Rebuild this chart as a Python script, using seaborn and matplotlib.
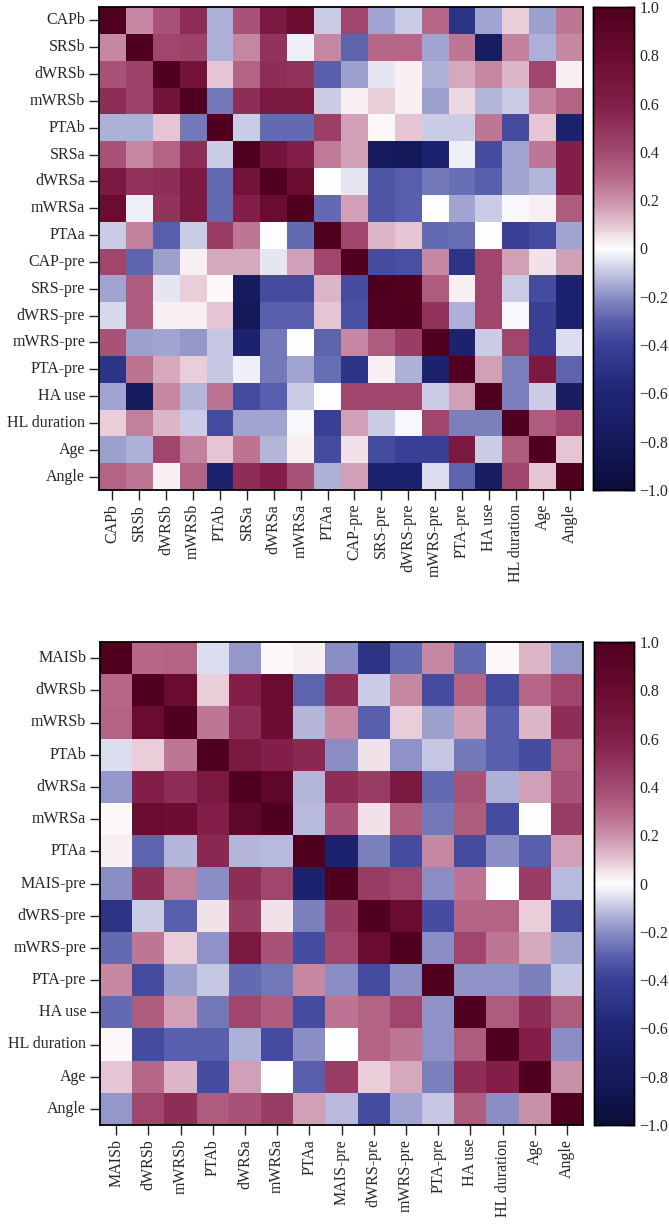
import numpy as np
import pandas as pd
import matplotlib
matplotlib.use("Agg")
import matplotlib.pyplot as plt
from matplotlib.colors import LinearSegmentedColormap
from matplotlib.ticker import FixedLocator, FuncFormatter
import seaborn as sns

sns.set_theme(style="white")
plt.rcParams['font.family'] = ['Liberation Serif', 'DejaVu Serif']

# ---------------- data: top panel ----------------
labels_top = ["CAPb", "SRSb", "dWRSb", "mWRSb", "PTAb", "SRSa", "dWRSa", "mWRSa", "PTAa",
              "CAP-pre", "SRS-pre", "dWRS-pre", "mWRS-pre", "PTA-pre", "HA use",
              "HL duration", "Age", "Angle"]

corr_top = [
    [1.0, 0.22, 0.37, 0.53, -0.14, 0.37, 0.65, 0.8, -0.09, 0.42, -0.16, -0.09, 0.3, -0.5, -0.16, 0.08, -0.17, 0.26],
    [0.22, 1.0, 0.42, 0.43, -0.14, 0.22, 0.5, -0.03, 0.22, -0.29, 0.3, 0.3, -0.16, 0.26, -0.75, 0.24, -0.14, 0.22],
    [0.37, 0.43, 1.0, 0.72, 0.1, 0.32, 0.53, 0.5, -0.3, -0.17, -0.04, 0.03, -0.14, 0.15, 0.22, 0.13, 0.42, 0.03],
    [0.53, 0.43, 0.72, 1.0, -0.25, 0.53, 0.65, 0.65, -0.09, 0.03, 0.08, 0.03, -0.17, 0.07, -0.13, -0.09, 0.24, 0.32],
    [-0.14, -0.14, 0.1, -0.25, 1.0, -0.09, -0.28, -0.28, 0.45, 0.17, 0.01, 0.1, -0.09, -0.09, 0.26, -0.36, 0.1, -0.65],
    [0.37, 0.22, 0.32, 0.53, -0.09, 1.0, 0.72, 0.6, 0.25, 0.17, -0.78, -0.82, -0.65, -0.03, -0.36, -0.16, 0.26, 0.6],
    [0.65, 0.5, 0.53, 0.65, -0.28, 0.72, 1.0, 0.8, 0.0, -0.04, -0.33, -0.3, -0.25, -0.27, -0.3, -0.16, -0.13, 0.6],
    [0.8, -0.03, 0.5, 0.65, -0.28, 0.6, 0.8, 1.0, -0.28, 0.17, -0.33, -0.3, 0.0, -0.16, -0.09, -0.01, 0.03, 0.34],
    [-0.09, 0.24, -0.3, -0.09, 0.46, 0.26, 0.0, -0.28, 1.0, 0.42, 0.13, 0.1, -0.28, -0.27, 0.0, -0.4, -0.36, -0.16],
    [0.42, -0.29, -0.17, 0.03, 0.15, 0.15, -0.04, 0.17, 0.42, 1.0, -0.36, -0.35, 0.22, -0.5, 0.42, 0.17, 0.05, 0.17],
    [-0.16, 0.34, -0.04, 0.08, 0.01, -0.78, -0.36, -0.36, 0.13, -0.36, 1.0, 0.98, 0.34, 0.03, 0.42, -0.09, -0.36, -0.65],
    [-0.07, 0.34, 0.03, 0.03, 0.1, -0.82, -0.3, -0.3, 0.1, -0.35, 0.98, 1.0, 0.5, -0.14, 0.42, -0.01, -0.4, -0.65],
    [0.37, -0.17, -0.16, -0.18, -0.1, -0.65, -0.25, 0.0, -0.29, 0.22, 0.34, 0.46, 1.0, -0.65, -0.09, 0.42, -0.4, -0.06],
    [-0.5, 0.27, 0.15, 0.08, -0.1, -0.03, -0.25, -0.16, -0.27, -0.5, 0.03, -0.14, -0.65, 1.0, 0.17, -0.23, 0.65, -0.29],
    [-0.16, -0.78, 0.22, -0.13, 0.27, -0.36, -0.3, -0.09, 0.0, 0.42, 0.42, 0.42, -0.09, 0.17, 1.0, -0.23, -0.09, -0.75],
    [0.08, 0.24, 0.13, -0.09, -0.36, -0.16, -0.16, -0.01, -0.4, 0.17, -0.09, -0.01, 0.42, -0.23, -0.23, 1.0, 0.34, 0.42],
    [-0.17, -0.14, 0.42, 0.24, 0.1, 0.27, -0.13, 0.03, -0.36, 0.05, -0.36, -0.4, -0.4, 0.65, -0.09, 0.34, 1.0, 0.1],
    [0.32, 0.26, 0.03, 0.32, -0.65, 0.53, 0.6, 0.37, -0.14, 0.17, -0.65, -0.65, -0.06, -0.29, -0.75, 0.42, 0.1, 1.0],
]

# ---------------- data: bottom panel ----------------
labels_bot = ["MAISb", "dWRSb", "mWRSb", "PTAb", "dWRSa", "mWRSa", "PTAa", "MAIS-pre",
              "dWRS-pre", "mWRS-pre", "PTA-pre", "HA use", "HL duration", "Age", "Angle"]

corr_bot = [
    [1.0, 0.3, 0.32, -0.06, -0.18, 0.01, 0.03, -0.2, -0.5, -0.28, 0.22, -0.28, 0.01, 0.13, -0.18],
    [0.3, 1.0, 0.8, 0.08, 0.6, 0.8, -0.29, 0.53, -0.09, 0.22, -0.36, 0.32, -0.36, 0.3, 0.42],
    [0.32, 0.8, 1.0, 0.26, 0.53, 0.78, -0.13, 0.22, -0.3, 0.08, -0.17, 0.17, -0.3, 0.13, 0.53],
    [-0.06, 0.08, 0.26, 1.0, 0.65, 0.6, 0.55, -0.2, 0.05, -0.19, -0.1, -0.25, -0.3, -0.36, 0.34],
    [-0.18, 0.6, 0.53, 0.65, 1.0, 0.88, -0.13, 0.53, 0.46, 0.65, -0.28, 0.37, -0.14, 0.17, 0.37],
    [0.01, 0.8, 0.78, 0.6, 0.88, 1.0, -0.12, 0.37, 0.05, 0.34, -0.25, 0.34, -0.36, 0.0, 0.46],
    [0.03, -0.29, -0.13, 0.55, -0.13, -0.12, 1.0, -0.65, -0.23, -0.36, 0.22, -0.36, -0.2, -0.3, 0.17],
    [-0.2, 0.53, 0.24, -0.2, 0.53, 0.42, -0.65, 1.0, 0.46, 0.42, -0.2, 0.27, 0.0, 0.46, -0.12],
    [-0.5, -0.09, -0.3, 0.05, 0.46, 0.05, -0.23, 0.46, 1.0, 0.8, -0.36, 0.32, 0.32, 0.08, -0.36],
    [-0.28, 0.26, 0.08, -0.19, 0.65, 0.37, -0.36, 0.42, 0.8, 1.0, -0.2, 0.42, 0.26, 0.15, -0.16],
    [0.22, -0.36, -0.17, -0.1, -0.28, -0.25, 0.22, -0.2, -0.36, -0.2, 1.0, -0.19, -0.19, -0.23, -0.1],
    [-0.28, 0.34, 0.17, -0.25, 0.42, 0.34, -0.36, 0.27, 0.32, 0.42, -0.19, 1.0, 0.34, 0.53, 0.34],
    [0.01, -0.36, -0.3, -0.3, -0.14, -0.36, -0.2, 0.0, 0.32, 0.26, -0.19, 0.34, 1.0, 0.6, -0.2],
    [0.1, 0.3, 0.13, -0.36, 0.17, 0.0, -0.3, 0.46, 0.08, 0.15, -0.23, 0.53, 0.6, 1.0, 0.2],
    [-0.18, 0.42, 0.53, 0.34, 0.37, 0.46, 0.17, -0.12, -0.36, -0.16, -0.1, 0.34, -0.2, 0.2, 1.0],
]

cbar_ticks = [-1.0, -0.8, -0.6, -0.4, -0.2, 0.0, 0.2, 0.4, 0.6, 0.8, 1.0]

# ---------------- colormap ----------------
cmap_anchors = [
    (0.00, "#0b0d3a"), (0.10, "#151a5c"), (0.20, "#1f2574"), (0.30, "#3a4096"),
    (0.35, "#5a60ac"), (0.40, "#8a8ec4"), (0.45, "#c4c6e2"), (0.50, "#ffffff"),
    (0.55, "#e4c4d2"), (0.60, "#c990a9"), (0.65, "#b66888"), (0.70, "#a34a70"),
    (0.80, "#821e48"), (0.90, "#6a0c30"), (1.00, "#50001e"),
]
cmap = LinearSegmentedColormap.from_list("navy_maroon", cmap_anchors, N=256)

FS = 11.5


def fmt(v, _pos=None):
    if abs(v) < 1e-9:
        return "0"
    return f"{v:.1f}".replace("-", "\u2212")


def draw(ax, cax, mat, labels):
    df = pd.DataFrame(mat, index=labels, columns=labels)
    sns.heatmap(df, cmap=cmap, vmin=-1, vmax=1, ax=ax, cbar_ax=cax,
                xticklabels=True, yticklabels=True, linewidths=0)
    for s in ax.spines.values():
        s.set_visible(True)
        s.set_color("black")
        s.set_linewidth(1.3)
    ax.tick_params(axis="both", which="major", direction="out", length=7, width=1.0,
                   color="#222222", labelsize=FS, pad=3, bottom=True, left=True)
    ax.set_xticklabels(labels, rotation=90, fontsize=FS)
    ax.set_yticklabels(labels, rotation=0, fontsize=FS)
    ax.set_xlabel("")
    ax.set_ylabel("")
    cax.yaxis.set_major_locator(FixedLocator(cbar_ticks))
    cax.yaxis.set_major_formatter(FuncFormatter(fmt))
    cax.tick_params(axis="y", which="major", direction="in", length=6, width=1.0,
                    left=True, right=True, labelleft=False, labelright=True,
                    labelsize=FS, pad=4, color="black")
    for s in cax.spines.values():
        s.set_visible(True)
        s.set_color("black")
        s.set_linewidth(1.0)
    cbar = ax.collections[0].colorbar
    cbar.outline.set_visible(True)
    cbar.outline.set_linewidth(1.0)
    cbar.outline.set_edgecolor("black")


W, H = 669, 1225
fig = plt.figure(figsize=(W / 100, H / 100), dpi=100)


def box(x0, y0, x1, y1):
    return [x0 / W, 1 - y1 / H, (x1 - x0) / W, (y1 - y0) / H]


ax1 = fig.add_axes(box(99, 7, 583, 490))
cax1 = fig.add_axes(box(593, 7, 634, 490))
ax2 = fig.add_axes(box(100, 642, 583, 1125))
cax2 = fig.add_axes(box(594, 642, 634, 1125))

draw(ax1, cax1, corr_top, labels_top)
draw(ax2, cax2, corr_bot, labels_bot)

fig.savefig("out.png", dpi=100, facecolor="white")
